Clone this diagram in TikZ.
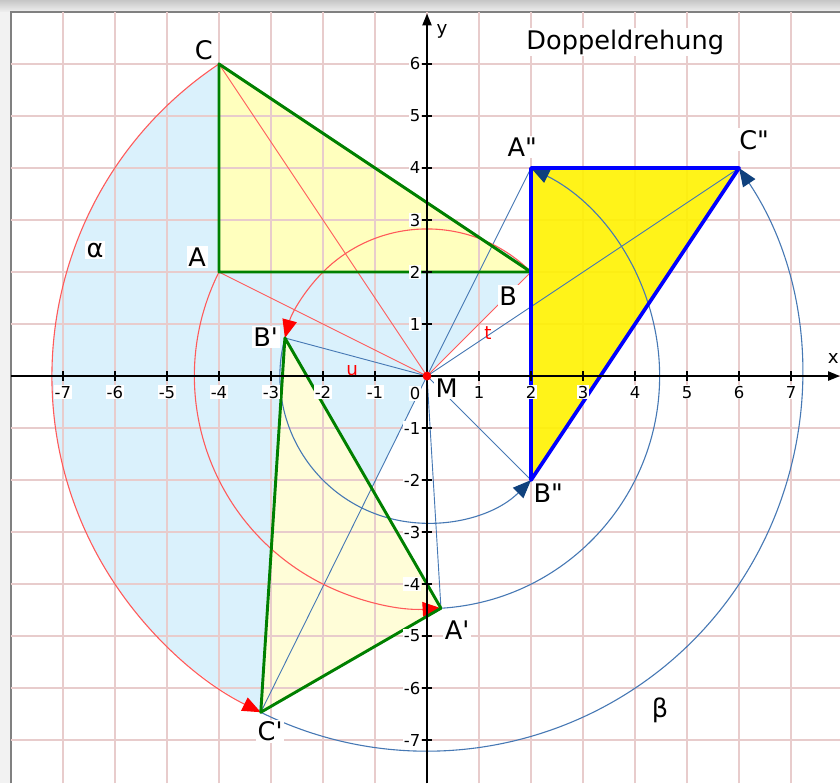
\documentclass[tikz,border=0pt]{standalone}
\usepackage{fontspec}
\setmainfont{DejaVu Sans}[Ligatures=TeXOff]
\usetikzlibrary{arrows.meta,calc}

\definecolor{gridpink}{RGB}{232,204,204}
\definecolor{sweepblue}{RGB}{218,241,252}
\definecolor{paleyellow}{RGB}{255,255,190}
\definecolor{paleryellow}{RGB}{255,253,216}
\definecolor{trigreen}{RGB}{0,128,0}
\definecolor{rayred}{RGB}{255,90,90}
\definecolor{rayblue}{RGB}{70,120,180}
\definecolor{tipblue}{RGB}{15,65,125}

\begin{document}
\begin{tikzpicture}[
    font=\fontsize{14}{16}\selectfont,
    ray/.style={line width=0.5pt},
    alphaarc/.style={draw=rayred, line width=0.6pt,
      -{Triangle[length=10pt,width=8pt,color=red]}},
    betaarc/.style={draw=rayblue, line width=0.6pt,
      -{Triangle[length=10pt,width=8pt,color=tipblue]}},
    axisline/.style={line width=1pt, -{Triangle[length=6.5pt,width=5pt]}},
    ticklbl/.style={fill=white, inner sep=0.6pt, font=\fontsize{9}{10}\selectfont},
    ptlbl/.style={fill=white, inner sep=1pt}
  ]
  \useasboundingbox (-8.21,-7.83) rectangle (7.94,7.23);
  % window frame
  \fill[gray!10] (-8.21,-7.83) rectangle (7.94,7.23);
  \shade[top color=gray!45, bottom color=gray!12] (-8.21,7) rectangle (7.94,7.23);
  \fill[white] (-8,-7.83) rectangle (7.94,7);
  \draw[gray, line width=1.2pt] (-8,-7.83) -- (-8,7) -- (7.94,7);

  % points, first turn 120 deg, second turn 150 deg
  \coordinate (M) at (0,0);
  \coordinate (A) at (-4,2);
  \coordinate (B) at (2,2);
  \coordinate (C) at (-4,6);
  \coordinate (A1) at ($(M)!1!120:(A)$);
  \coordinate (B1) at ($(M)!1!120:(B)$);
  \coordinate (C1) at ($(M)!1!120:(C)$);
  \coordinate (A2) at ($(M)!1!150:(A1)$);
  \coordinate (B2) at ($(M)!1!150:(B1)$);
  \coordinate (C2) at ($(M)!1!150:(C1)$);

  % swept sectors
  \fill[sweepblue] (M) -- (C) arc[start angle=123.69, end angle=243.69, radius=7.2111] -- cycle;
  \fill[sweepblue] (M) -- (B) arc[start angle=45, end angle=165, radius=2.8284] -- cycle;
  \fill[paleyellow] (A) -- (B) -- (C) -- cycle;
  \fill[paleryellow] (A1) -- (B1) -- (C1) -- cycle;

  % grid
  \foreach \i in {-7,...,7}
    \draw[gridpink, line width=0.7pt] (\i,-7.83) -- (\i,7);
  \foreach \j in {-7,...,6}
    \draw[gridpink, line width=0.7pt] (-8,\j) -- (7.94,\j);

  \fill[yellow, fill opacity=0.9] (A2) -- (B2) -- (C2) -- cycle;

  % rays from the centre
  \foreach \p in {A,B,C}
    \draw[ray, rayred] (M) -- (\p);
  \foreach \p in {A1,B1,C1,A2,B2,C2}
    \draw[ray, rayblue] (M) -- (\p);

  % turning arcs
  \draw[alphaarc] (C) arc[start angle=123.69, end angle=243.69, radius=7.2111];
  \draw[alphaarc] (A) arc[start angle=153.43, end angle=273.43, radius=4.4721];
  \draw[alphaarc] (B) arc[start angle=45, end angle=165, radius=2.8284];
  \draw[betaarc] (C1) arc[start angle=243.69, end angle=393.69, radius=7.2111];
  \draw[betaarc] (A1) arc[start angle=273.43, end angle=423.43, radius=4.4721];
  \draw[betaarc] (B1) arc[start angle=165, end angle=315, radius=2.8284];

  % triangles
  \draw[trigreen, line width=1.6pt, line join=round] (A) -- (B) -- (C) -- cycle;
  \draw[trigreen, line width=1.6pt, line join=round] (A1) -- (B1) -- (C1) -- cycle;
  \draw[blue, line width=2pt, line join=round] (A2) -- (B2) -- (C2) -- cycle;

  % axes
  \coordinate (xs) at (-8,0);
  \coordinate (xe) at (7.94,0);
  \coordinate (ys) at (0,-7.83);
  \coordinate (ye) at (0,6.97);
  \draw[axisline] (xs) -- (xe);
  \draw[axisline] (ys) -- (ye);
  \foreach \i in {-7,...,-1,1,2,...,7} {
    \draw[line width=0.8pt] (\i,-0.09) -- (\i,0.09);
    \node[ticklbl] (xt\i) at (\i,-0.31) {\i};
  }
  \foreach \j in {-7,...,-1,1,2,...,6} {
    \draw[line width=0.8pt] (-0.09,\j) -- (0.09,\j);
    \node[ticklbl, anchor=east] (yt\j) at (-0.1,\j) {\j};
  }
  \node[ticklbl] (origin) at (-0.23,-0.33) {0};
  \node[font=\fontsize{10}{12}\selectfont] (xname) at (7.81,0.33) {x};
  \node[font=\fontsize{10}{12}\selectfont] (yname) at (0.29,6.62) {y};

  % labels
  \node[ptlbl] (title) at (3.81,6.42) {Doppeldrehung};
  \node[ptlbl] (lblC) at ($(C)+(-0.29,0.27)$) {C};
  \node[ptlbl] (lblA) at ($(A)+(-0.42,0.29)$) {A};
  \node[ptlbl] (lblB) at ($(B)+(-0.44,-0.46)$) {B};
  \node[ptlbl] (lblB1) at ($(B1)+(-0.37,0.02)$) {B'};
  \node[ptlbl] (lblA1) at ($(A1)+(0.31,-0.42)$) {A'};
  \node[ptlbl] (lblC1) at ($(C1)+(0.18,-0.37)$) {C'};
  \node[ptlbl] (lblA2) at ($(A2)+(-0.17,0.40)$) {A"};
  \node[ptlbl] (lblB2) at ($(B2)+(0.33,-0.26)$) {B"};
  \node[ptlbl] (lblC2) at ($(C2)+(0.29,0.54)$) {C"};
  \node[ptlbl] (lblM) at (0.38,-0.23) {M};
  \node[ptlbl] (alpha) at (-6.38,2.42) {α};
  \node[ptlbl] (beta) at (4.48,-6.42) {β};
  \node[text=red, font=\fontsize{10}{12}\selectfont] (lblt) at (1.17,0.83) {t};
  \node[text=red, font=\fontsize{10}{12}\selectfont] (lblu) at (-1.44,0.10) {u};

  \fill[red] (M) circle (0.085);
\end{tikzpicture}
\end{document}
